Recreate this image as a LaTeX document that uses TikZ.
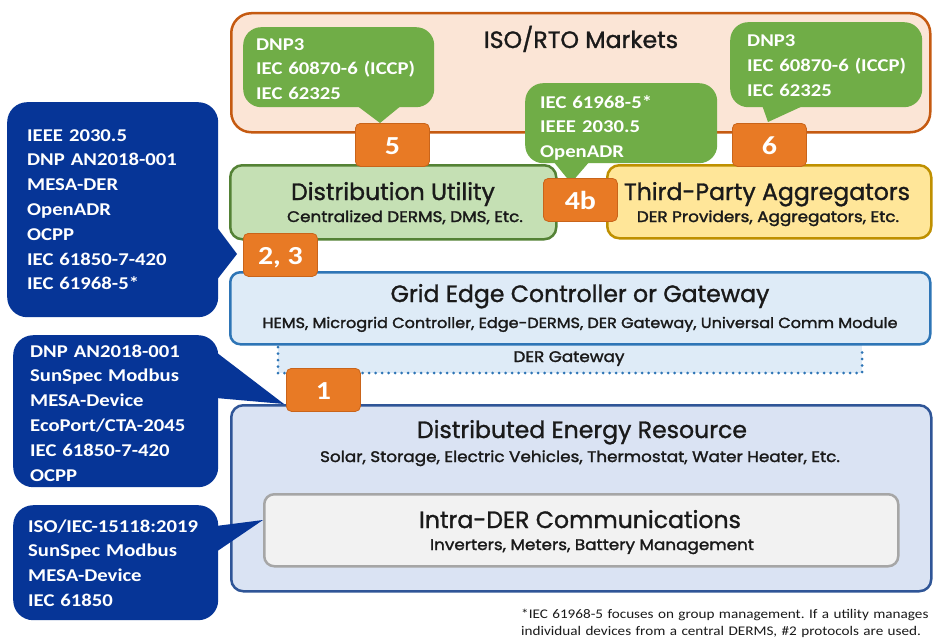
\documentclass[tikz,border=0pt]{standalone}
\usepackage{fontspec}
\setmainfont{Poppins}
\newfontfamily\titlefont{Poppins}[FakeBold=1.2]
\newfontfamily\subfont{Poppins}[FakeBold=1.8, FakeStretch=1.1]
\newfontfamily\callfont{Carlito}[FakeStretch=1.15]
\definecolor{isoD}{HTML}{C55A11}
\definecolor{isoF}{HTML}{FBE5D6}
\definecolor{utilD}{HTML}{548235}
\definecolor{utilF}{HTML}{C5E0B4}
\definecolor{aggD}{HTML}{BF9000}
\definecolor{aggF}{HTML}{FFE699}
\definecolor{edgeD}{HTML}{2E75B6}
\definecolor{edgeF}{HTML}{DEEBF7}
\definecolor{derD}{HTML}{2F5597}
\definecolor{derF}{HTML}{DAE3F3}
\definecolor{intraD}{HTML}{A6A6A6}
\definecolor{intraF}{HTML}{F2F2F2}
\definecolor{calloutG}{HTML}{70AD47}
\definecolor{calloutB}{HTML}{063597}
\definecolor{badgeF}{HTML}{E87A25}
\definecolor{badgeD}{HTML}{C9641A}
\definecolor{ink}{HTML}{1A1A1A}
\frenchspacing
\begin{document}
\begin{tikzpicture}[x=1pt,y=-1pt,
  panel/.style={draw, line width=2.5pt, anchor=north west, inner sep=0pt},
  callbody/.style={anchor=north west, inner sep=0pt, rounded corners=18pt},
  prot/.style={text=white, font=\callfont\bfseries\fontsize{18}{24.8}\selectfont,
    anchor=base west, inner sep=0pt, text width=210pt, align=left},
  badge/.style={fill=badgeF, draw=badgeD, line width=0.8pt, rounded corners=5pt,
    anchor=north west, inner sep=0pt, minimum width=74pt, minimum height=43pt,
    text=white, font=\callfont\bfseries\fontsize{26}{28}\selectfont,
    text height=20pt, text depth=0pt},
  ttl/.style={text=ink, font=\titlefont\fontsize{23.6}{28}\selectfont, anchor=base, inner sep=0pt},
  sub/.style={text=ink, font=\subfont\fontsize{15.3}{18}\selectfont, anchor=base, inner sep=0pt},
  note/.style={text=ink, font=\callfont\fontsize{13.2}{17}\selectfont,
    anchor=base west, inner sep=0pt, text width=430pt, align=left}]
\useasboundingbox (0,0) rectangle (933,642);
\fill[white] (0,0) rectangle (933,642);

% ISO / RTO markets
\node[panel, draw=isoD, fill=isoF, rounded corners=20pt,
  minimum width=699pt, minimum height=119pt] (iso) at (230,12) {};
\node[ttl] (isoT) at (581,48) {ISO/RTO Markets};

% green protocol callouts inside the market panel
\node[callbody, fill=calloutG, minimum width=191pt, minimum height=80pt] (g5) at (243,27) {};
\fill[calloutG] (356,105) -- (380,123) -- (402,105) -- cycle;
\node[prot] (g5t) at (256,50) {DNP3\\IEC 60870-6 (ICCP)\\IEC 62325};

\node[callbody, fill=calloutG, minimum width=192pt, minimum height=85pt] (g6) at (730,22) {};
\fill[calloutG] (762,105) -- (768,122) -- (805,105) -- cycle;
\node[prot] (g6t) at (747,47) {DNP3\\IEC 60870-6 (ICCP)\\IEC 62325};

% utility and aggregator panels
\node[panel, draw=utilD, fill=utilF, rounded corners=12pt,
  minimum width=326pt, minimum height=74pt] (util) at (229,164) {};
\node[ttl] (utilT) at (393,200) {Distribution Utility};
\node[sub] (utilS) at (405,222) {Centralized DERMS, DMS, Etc.};

\node[panel, draw=aggD, fill=aggF, rounded corners=12pt,
  minimum width=324pt, minimum height=73pt] (agg) at (606,164) {};
\node[ttl] (aggT) at (767,200) {Third-Party Aggregators};
\node[sub] (aggS) at (768,222) {DER Providers, Aggregators, Etc.};

% callout for link 4b
\node[callbody, fill=calloutG, minimum width=192pt, minimum height=80pt] (g4) at (525,83) {};
\fill[calloutG] (553,161) -- (571,183) -- (590,161) -- cycle;
\node[prot] (g4t) at (540,108) {IEC 61968-5*\\IEEE 2030.5\\OpenADR};

% grid edge controller with DER gateway strip
\fill[edgeF] (278,343) rectangle (862,373);
\draw[edgeD, line width=3pt, line cap=round, dash pattern=on 0pt off 6.5pt]
  (278,347) -- (278,373) -- (862,373) -- (862,347);
\node[panel, draw=edgeD, fill=edgeF, rounded corners=10pt,
  minimum width=700pt, minimum height=72pt] (edge) at (229,271) {};
\node[ttl] (edgeT) at (580,302) {Grid Edge Controller or Gateway};
\node[sub, font=\subfont\fontsize{14.6}{18}\selectfont] (edgeS) at (580,328) {HEMS, Microgrid Controller, Edge-DERMS, DER Gateway, Universal Comm Module};
\node[sub] (gw) at (569,362) {DER Gateway};

% distributed energy resource
\node[panel, draw=derD, fill=derF, rounded corners=12pt,
  minimum width=700pt, minimum height=186pt] (der) at (230,404) {};
\node[ttl] (derT) at (582,438) {Distributed Energy Resource};
\node[sub] (derS) at (580,462) {Solar, Storage, Electric Vehicles, Thermostat, Water Heater, Etc.};
\node[panel, draw=intraD, fill=intraF, rounded corners=10pt,
  minimum width=634pt, minimum height=72pt] (intra) at (263,493) {};
\node[ttl] (intraT) at (580,528) {Intra-DER Communications};
\node[sub] (intraS) at (592,550) {Inverters, Meters, Battery Management};

% blue protocol callouts on the left
\node[callbody, fill=calloutB, rounded corners=20pt, minimum width=211pt, minimum height=215pt] (b23) at (7,102) {};
\fill[calloutB] (216,226) -- (237,254) -- (216,281) -- cycle;
\node[prot] (b23t) at (27,141) {IEEE 2030.5\\DNP AN2018-001\\MESA-DER\\OpenADR\\OCPP\\IEC 61850-7-420\\IEC 61968-5*};

\node[callbody, fill=calloutB, rounded corners=20pt, minimum width=205pt, minimum height=152pt] (b1) at (13,335) {};
\fill[calloutB] (212,349) -- (284,404) -- (216,398) -- cycle;
\node[prot] (b1t) at (30,357) {DNP AN2018-001\\SunSpec Modbus\\MESA-Device\\EcoPort/CTA-2045\\IEC 61850-7-420\\OCPP};

\node[callbody, fill=calloutB, rounded corners=20pt, minimum width=205pt, minimum height=115pt] (bi) at (13,505) {};
\fill[calloutB] (216,526) -- (263,520) -- (216,552) -- cycle;
\node[prot] (bit) at (28,532) {ISO/IEC-15118:2019\\SunSpec Modbus\\MESA-Device\\IEC 61850};

% interface number badges
\node[badge] (n5) at (355,123) {5};
\node[badge] (n6) at (732,123) {6};
\node[badge] (n4b) at (543,178) {4b};
\node[badge] (n23) at (243,233) {2, 3};
\node[badge] (n1) at (286,368) {1};

% footnote
\node[note] (fn) at (521,618) {*IEC 61968-5 focuses on group management. If a utility manages\\individual devices from a central DERMS, \#2 protocols are used.};
\end{tikzpicture}
\end{document}
